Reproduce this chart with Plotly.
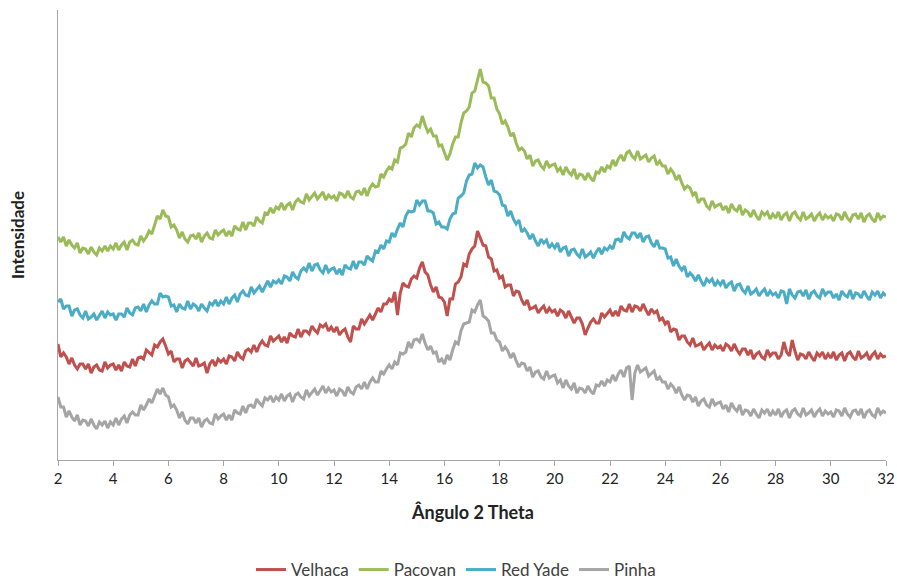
import numpy as np
import plotly.graph_objects as go

# 2-theta sampling grid (degrees), step 0.1
two_theta = np.round(np.arange(2.0, 32.0001, 0.1), 1)

pacovan = [
    223, 218, 223, 214, 220, 215, 212, 217, 207, 212, 211, 206, 213, 208, 205, 212, 209, 214, 209, 214,
    211, 217, 210, 215, 218, 210, 218, 220, 216, 215, 224, 219, 223, 229, 226, 236, 244, 241, 250, 244,
    243, 233, 235, 230, 222, 228, 221, 218, 224, 225, 221, 227, 218, 224, 227, 222, 221, 230, 225, 228,
    230, 224, 229, 224, 234, 231, 230, 238, 230, 237, 237, 234, 243, 239, 237, 247, 246, 252, 247, 253,
    251, 257, 250, 255, 257, 250, 258, 261, 258, 257, 266, 260, 263, 267, 261, 265, 268, 260, 265, 262,
    264, 259, 267, 266, 262, 269, 263, 261, 268, 269, 265, 272, 264, 272, 276, 273, 274, 286, 283, 289,
    293, 291, 300, 298, 312, 313, 316, 327, 323, 332, 335, 333, 344, 335, 328, 331, 324, 324, 314, 315,
    308, 300, 306, 316, 323, 323, 337, 347, 349, 353, 367, 369, 380, 391, 378, 377, 374, 362, 362, 351,
    346, 336, 339, 333, 324, 327, 317, 310, 312, 309, 301, 305, 294, 299, 300, 294, 291, 299, 293, 295,
    296, 289, 292, 285, 293, 288, 285, 291, 281, 286, 285, 280, 287, 282, 279, 288, 287, 293, 288, 294,
    292, 300, 294, 301, 305, 299, 307, 309, 304, 301, 309, 301, 303, 305, 298, 302, 304, 295, 299, 294,
    294, 286, 291, 287, 280, 285, 277, 271, 274, 272, 265, 268, 257, 261, 261, 254, 251, 259, 253, 255,
    256, 250, 254, 247, 256, 251, 249, 255, 245, 250, 248, 243, 250, 244, 240, 248, 245, 248, 241, 246,
    242, 248, 240, 245, 247, 239, 246, 248, 243, 240, 248, 241, 243, 246, 239, 244, 247, 240, 245, 242,
    244, 239, 246, 245, 240, 248, 242, 239, 245, 246, 241, 247, 238, 244, 246, 241, 238, 247, 241, 244,
    243,
]

red_yade = [
    158, 161, 151, 154, 154, 144, 150, 151, 145, 142, 149, 141, 143, 146, 140, 145, 149, 142, 148, 145,
    146, 140, 146, 146, 143, 152, 147, 145, 152, 153, 149, 156, 148, 155, 159, 156, 156, 167, 163, 164,
    163, 154, 155, 148, 156, 152, 151, 159, 151, 156, 154, 149, 156, 152, 149, 157, 155, 160, 154, 159,
    156, 163, 156, 162, 165, 158, 166, 169, 165, 164, 173, 167, 170, 174, 168, 174, 179, 173, 179, 177,
    180, 176, 184, 183, 179, 188, 183, 181, 189, 192, 189, 197, 189, 195, 196, 190, 187, 195, 188, 191,
    192, 186, 191, 185, 195, 192, 191, 199, 191, 198, 198, 195, 204, 201, 199, 209, 208, 215, 211, 219,
    218, 227, 223, 231, 237, 233, 244, 249, 248, 249, 260, 255, 259, 259, 249, 249, 247, 236, 238, 233,
    233, 231, 241, 246, 247, 262, 264, 267, 279, 285, 286, 297, 292, 295, 293, 283, 275, 280, 269, 268,
    265, 255, 254, 244, 249, 241, 236, 240, 228, 231, 227, 221, 226, 219, 214, 221, 217, 220, 212, 216,
    212, 217, 208, 212, 213, 204, 210, 211, 206, 203, 211, 203, 205, 208, 202, 208, 212, 206, 212, 210,
    214, 211, 220, 221, 218, 228, 223, 221, 227, 227, 222, 227, 218, 223, 224, 217, 213, 220, 212, 212,
    211, 202, 203, 194, 201, 194, 190, 194, 183, 187, 184, 179, 185, 179, 174, 181, 178, 181, 174, 179,
    175, 180, 172, 176, 178, 169, 175, 176, 170, 167, 174, 166, 168, 171, 164, 168, 171, 164, 169, 165,
    167, 162, 169, 168, 156, 171, 165, 162, 168, 169, 164, 170, 161, 167, 169, 164, 162, 171, 165, 168,
    168, 162, 166, 160, 169, 165, 163, 170, 161, 167, 166, 162, 169, 164, 160, 168, 165, 169, 162, 167,
    164,
]

velhaca = [
    116, 103, 107, 103, 96, 102, 95, 91, 96, 96, 91, 96, 87, 93, 95, 90, 89, 98, 92, 95,
    96, 90, 95, 89, 98, 94, 93, 101, 94, 102, 103, 101, 110, 107, 105, 115, 113, 118, 121, 114,
    106, 109, 98, 101, 101, 92, 99, 101, 97, 94, 102, 94, 95, 97, 87, 96, 100, 94, 101, 98,
    101, 96, 104, 103, 99, 108, 103, 101, 109, 111, 108, 115, 108, 115, 119, 115, 114, 124, 119, 122,
    124, 118, 123, 117, 127, 124, 123, 131, 123, 129, 129, 126, 134, 130, 127, 135, 133, 136, 129, 133,
    128, 133, 125, 129, 131, 123, 118, 134, 131, 131, 141, 136, 140, 145, 140, 147, 152, 148, 156, 156,
    161, 158, 168, 145, 167, 177, 174, 173, 181, 184, 182, 192, 198, 188, 185, 175, 168, 173, 163, 162,
    158, 144, 161, 161, 176, 178, 183, 196, 194, 206, 211, 214, 229, 222, 215, 214, 203, 201, 189, 190,
    182, 184, 173, 175, 175, 164, 169, 168, 160, 155, 160, 151, 152, 154, 147, 151, 154, 147, 152, 148,
    150, 144, 150, 148, 142, 149, 142, 137, 142, 142, 136, 125, 132, 138, 141, 137, 137, 147, 143, 147,
    150, 144, 149, 144, 154, 150, 149, 156, 148, 154, 153, 149, 156, 150, 145, 151, 147, 149, 140, 142,
    136, 139, 128, 131, 130, 120, 124, 124, 118, 115, 122, 114, 115, 117, 110, 114, 117, 110, 115, 112,
    114, 109, 116, 114, 109, 116, 110, 106, 111, 111, 105, 110, 101, 106, 108, 103, 101, 110, 104, 107,
    107, 101, 105, 118, 108, 104, 120, 109, 100, 106, 105, 101, 108, 103, 99, 107, 104, 108, 101, 106,
    102, 108, 100, 105, 107, 99, 106, 108, 103, 100, 109, 102, 104, 107, 100, 105, 108, 101, 106, 103,
    104,
]

pinha = [
    63, 53, 53, 43, 49, 43, 39, 45, 35, 40, 39, 34, 41, 35, 31, 38, 35, 39, 32, 38,
    35, 42, 35, 41, 44, 37, 45, 48, 45, 45, 55, 50, 55, 61, 57, 65, 71, 66, 72, 65,
    63, 53, 55, 50, 42, 48, 40, 36, 42, 42, 37, 42, 33, 39, 41, 37, 36, 46, 41, 44,
    46, 40, 45, 40, 50, 47, 46, 54, 47, 54, 55, 52, 61, 57, 54, 62, 60, 64, 58, 63,
    60, 66, 59, 64, 66, 58, 65, 67, 63, 61, 70, 64, 67, 71, 65, 70, 74, 67, 72, 68,
    70, 64, 71, 69, 64, 73, 68, 66, 73, 75, 71, 78, 71, 78, 82, 78, 78, 89, 86, 91,
    95, 91, 98, 95, 107, 106, 108, 118, 112, 120, 121, 118, 126, 117, 110, 114, 107, 108, 98, 101,
    96, 105, 100, 110, 118, 116, 129, 136, 137, 138, 150, 148, 155, 160, 144, 142, 139, 127, 127, 120,
    118, 109, 113, 109, 102, 107, 99, 93, 97, 96, 89, 93, 83, 88, 89, 83, 81, 89, 82, 84,
    85, 77, 80, 72, 80, 74, 71, 77, 67, 72, 71, 67, 74, 69, 66, 75, 74, 79, 74, 80,
    78, 85, 79, 86, 90, 83, 92, 94, 60, 87, 95, 88, 90, 92, 84, 87, 89, 80, 83, 78,
    78, 71, 76, 73, 67, 73, 65, 60, 65, 64, 58, 63, 54, 59, 61, 55, 53, 61, 55, 57,
    58, 51, 55, 48, 57, 52, 49, 55, 45, 50, 49, 44, 51, 46, 42, 50, 47, 51, 44, 49,
    45, 51, 43, 48, 50, 42, 49, 51, 46, 44, 52, 45, 47, 50, 43, 48, 51, 44, 49, 46,
    48, 43, 50, 49, 44, 52, 46, 43, 49, 50, 45, 51, 42, 48, 50, 45, 43, 52, 46, 49,
    47,
]

x_ticks = list(range(2, 33, 2))

series = [
    ("Velhaca", velhaca, "#C0504D"),
    ("Pacovan", pacovan, "#9BBB59"),
    ("Red Yade", red_yade, "#4BACC6"),
    ("Pinha", pinha, "#A5A5A5"),
]

FONT = "Lato, 'Open Sans', sans-serif"

fig = go.Figure()
for name, vals, color in series:
    fig.add_trace(go.Scatter(
        x=two_theta, y=vals, mode="lines", name=name,
        line=dict(color=color, width=3),
    ))

fig.update_layout(
    width=897, height=581,
    margin=dict(l=58, r=11, t=10, b=121, autoexpand=False),
    paper_bgcolor="white", plot_bgcolor="white",
    font=dict(family=FONT, size=14, color="#404040"),
    showlegend=True,
    legend=dict(
        orientation="h", xref="container", yref="container",
        x=456 / 897, xanchor="center",
        y=1 - 570 / 581, yanchor="middle",
        font=dict(size=17, color="#404040", family=FONT),
        itemwidth=30, tracegroupgap=0,
    ),
    xaxis=dict(
        range=[2, 32], tickmode="array", tickvals=x_ticks,
        ticktext=[str(t) for t in x_ticks],
        showline=True, linecolor="#A6A6A6", linewidth=1,
        ticks="outside", ticklen=5, tickcolor="#A6A6A6",
        showgrid=False, zeroline=False, automargin=False,
        tickfont=dict(size=15, color="#222222", family=FONT),
    ),
    yaxis=dict(
        range=[0, 450], showline=True, linecolor="#A6A6A6", linewidth=1,
        showticklabels=False, ticks="", showgrid=False, zeroline=False,
        automargin=False,
    ),
    annotations=[
        dict(text="<b>Ângulo 2 Theta</b>", xref="paper", yref="paper",
             x=0.5, y=(460 - 512) / 450, xanchor="center", yanchor="middle",
             showarrow=False, font=dict(size=18, color="#222222", family=FONT)),
        dict(text="<b>Intensidade</b>", xref="paper", yref="paper",
             x=(17 - 58) / 828, y=0.5, xanchor="center", yanchor="middle",
             textangle=-90, showarrow=False,
             font=dict(size=17, color="#222222", family=FONT)),
    ],
)

fig.write_html(
    "out.html",
    config={"displayModeBar": False},
    post_script="document.body.style.margin='0';document.body.style.padding='0';",
)
